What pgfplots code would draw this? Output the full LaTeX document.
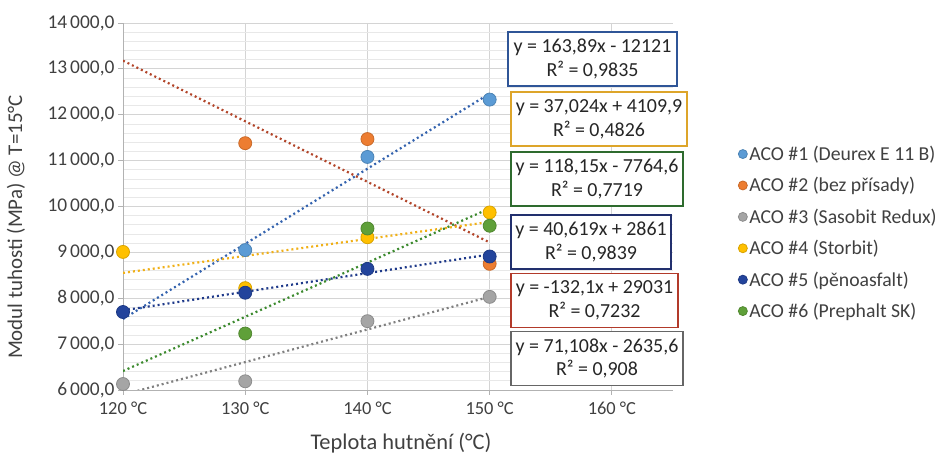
\documentclass[border=0pt]{standalone}
\usepackage{pgfplots}
\pgfplotsset{compat=1.18}
\usepackage{fontspec}
\setmainfont{Carlito}
\definecolor{cA}{HTML}{5B9BD5}
\definecolor{cB}{HTML}{ED7D31}
\definecolor{cC}{HTML}{A5A5A5}
\definecolor{cD}{HTML}{FFC000}
\definecolor{cE}{HTML}{23449C}
\definecolor{cF}{HTML}{5FA039}
\definecolor{tA}{HTML}{3463AE}
\definecolor{tB}{HTML}{B2452A}
\definecolor{tC}{HTML}{808080}
\definecolor{tD}{HTML}{F0B018}
\definecolor{tE}{HTML}{1F3A8A}
\definecolor{tF}{HTML}{3C8A2E}
\definecolor{bA}{HTML}{2F5597}
\definecolor{bB}{HTML}{B23A2A}
\definecolor{bC}{HTML}{666666}
\definecolor{bD}{HTML}{DDA52A}
\definecolor{bE}{HTML}{22306E}
\definecolor{bF}{HTML}{2E6B2E}
\definecolor{txt}{HTML}{404040}
\begin{document}
\begin{tikzpicture}[x=1bp,y=1bp]
\path[use as bounding box] (0,0) rectangle (935,457);
\begin{axis}[
  at={(123bp,67bp)}, anchor=south west, scale only axis,
  width=550bp, height=367bp,
  xmin=120, xmax=165, ymin=6000, ymax=14000,
  scaled y ticks=false, scaled x ticks=false,
  xtick={120,130,140,150,160},
  xticklabels={120 °C,130 °C,140 °C,150 °C,160 °C},
  ytick={6000,7000,8000,9000,10000,11000,12000,13000,14000},
  yticklabels={{6\kern.15em000,0},{7\kern.15em000,0},{8\kern.15em000,0},{9\kern.15em000,0},{10\kern.15em000,0},{11\kern.15em000,0},{12\kern.15em000,0},{13\kern.15em000,0},{14\kern.15em000,0}},
  minor y tick num=4,
  xmajorgrids, ymajorgrids, yminorgrids,
  major grid style={color=black!17, line width=0.8bp},
  minor grid style={color=black!9, line width=0.8bp},
  axis x line*=bottom, axis y line*=left,
  axis line style={color=black!30, line width=0.8bp},
  tick align=outside, major tick length=5bp, minor tick length=0bp,
  tick style={color=black!30, line width=0.8bp},
  xticklabel style={font=\fontsize{18.5}{20}\selectfont, text=txt, yshift=-3bp},
  yticklabel style={font=\fontsize{19.5}{20}\selectfont, text=txt},
  clip mode=individual,
  legend style={at={(1.113,0.676)}, anchor=north west, draw=none, fill=none,
    font=\fontsize{19.8}{21}\selectfont, text=txt, row sep=11.5bp},
  legend cell align=left,
  legend image code/.code={\draw[#1,mark size=4.5bp] plot coordinates {(0bp,0bp)};},
]
% trend lines (endpoints from the regression equations shown)
\addplot[forget plot, tA, line width=2.2bp, dash pattern=on 2bp off 3bp] coordinates {(120,7546.8) (150,12462.5)};
\addplot[forget plot, tB, line width=2.2bp, dash pattern=on 2bp off 3bp] coordinates {(120,13179) (150,9216)};
\addplot[forget plot, tC, line width=2.2bp, dash pattern=on 2bp off 3bp] coordinates {(120,5897.4) (150,8030.6)};
\addplot[forget plot, tD, line width=2.2bp, dash pattern=on 2bp off 3bp] coordinates {(120,8552.8) (150,9663.5)};
\addplot[forget plot, tE, line width=2.2bp, dash pattern=on 2bp off 3bp] coordinates {(120,7735.3) (150,8953.9)};
\addplot[forget plot, tF, line width=2.2bp, dash pattern=on 2bp off 3bp] coordinates {(120,6413.4) (150,9957.9)};
% data
\addplot[only marks, mark=*, mark size=6.5bp, mark options={fill=cA, draw=cA!85!black, line width=0.8bp}] coordinates {(130,9050) (140,11080) (150,12330)};
\addlegendentry{ACO \#1 (Deurex E 11 B)}
\addplot[only marks, mark=*, mark size=6.5bp, mark options={fill=cB, draw=cB!85!black, line width=0.8bp}] coordinates {(130,11380) (140,11470) (150,8750)};
\addlegendentry{ACO \#2 (bez přísady)}
\addplot[only marks, mark=*, mark size=6.5bp, mark options={fill=cC, draw=cC!85!black, line width=0.8bp}] coordinates {(120,6130) (130,6190) (140,7500) (150,8030)};
\addlegendentry{ACO \#3 (Sasobit Redux)}
\addplot[only marks, mark=*, mark size=6.5bp, mark options={fill=cD, draw=cD!85!black, line width=0.8bp}] coordinates {(120,9010) (130,8220) (140,9330) (150,9870)};
\addlegendentry{ACO \#4 (Storbit)}
\addplot[only marks, mark=*, mark size=6.5bp, mark options={fill=cE, draw=cE!85!black, line width=0.8bp}] coordinates {(120,7700) (130,8120) (140,8640) (150,8910)};
\addlegendentry{ACO \#5 (pěnoasfalt)}
\addplot[only marks, mark=*, mark size=6.5bp, mark options={fill=cF, draw=cF!85!black, line width=0.8bp}] coordinates {(130,7230) (140,9520) (150,9580)};
\addlegendentry{ACO \#6 (Prephalt SK)}
\end{axis}
\tikzset{eqbox/.style={draw, fill=white, line width=1.8bp, align=center, inner sep=0pt, minimum height=54bp, text=black!85, font=\fontsize{20}{24}\selectfont}}
\node[eqbox, draw=bA, minimum width=169bp] at (592.5,398) {y = 163,89x - 12121\\R² = 0,9835};
\node[eqbox, draw=bD, minimum width=176bp] at (599,338) {y = 37,024x + 4109,9\\R² = 0,4826};
\node[eqbox, draw=bF, minimum width=172bp] at (597,278) {y = 118,15x - 7764,6\\R² = 0,7719};
\node[eqbox, draw=bE, minimum width=160bp] at (591,215) {y = 40,619x + 2861\\R² = 0,9839};
\node[eqbox, draw=bB, minimum width=167bp] at (594.5,156.5) {y = -132,1x + 29031\\R² = 0,7232};
\node[eqbox, draw=bC, minimum width=172bp] at (597,98.5) {y = 71,108x - 2635,6\\R² = 0,908};
\node[rotate=90, text=txt, font=\fontsize{21}{24}\selectfont] at (16,230) {Modul tuhosti (MPa) @ T=15°C};
\node[text=txt, font=\fontsize{22.5}{24}\selectfont] at (401,14) {Teplota hutnění (°C)};
\end{tikzpicture}
\end{document}
